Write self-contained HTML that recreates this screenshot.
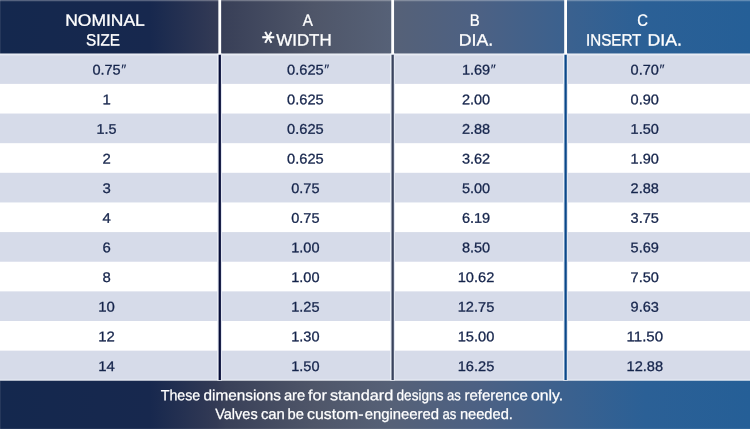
<!DOCTYPE html>
<html lang="en"><head><meta charset="utf-8"><title>Dimensions table</title>
<style>html,body{margin:0;padding:0;background:#fff}body{width:750px;height:429px;overflow:hidden}svg{display:block}text{font-family:"Liberation Sans",sans-serif}</style></head><body>
<svg width="750" height="429" viewBox="0 0 750 429">
<defs>
<linearGradient id="hg" x1="0" y1="0" x2="750" y2="0" gradientUnits="userSpaceOnUse">
<stop offset="0" stop-color="#14284e"/>
<stop offset="0.2" stop-color="#17284e"/>
<stop offset="0.288" stop-color="#333a55"/>
<stop offset="0.30" stop-color="#394058"/>
<stop offset="0.42" stop-color="#4f5669"/>
<stop offset="0.52" stop-color="#566177"/>
<stop offset="0.64" stop-color="#4c6184"/>
<stop offset="0.76" stop-color="#3a618f"/>
<stop offset="0.86" stop-color="#2b6096"/>
<stop offset="1" stop-color="#255f97"/>
</linearGradient>
</defs>
<rect x="0" y="0" width="750" height="429" fill="#ffffff"/>
<rect x="0" y="0" width="750" height="53.7" fill="url(#hg)"/>
<rect x="0" y="53.7" width="750" height="2" fill="#e8ecf4"/>
<rect x="0" y="379" width="750" height="2" fill="#eef1f7"/>
<rect x="0" y="55.30" width="750" height="28.59" fill="#d6dbe9"/>
<rect x="0" y="113.53" width="750" height="29.64" fill="#d6dbe9"/>
<rect x="0" y="172.81" width="750" height="29.64" fill="#d6dbe9"/>
<rect x="0" y="232.09" width="750" height="29.64" fill="#d6dbe9"/>
<rect x="0" y="291.37" width="750" height="29.64" fill="#d6dbe9"/>
<rect x="0" y="350.65" width="750" height="28.95" fill="#d6dbe9"/>
<rect x="0" y="380.7" width="750" height="48.3" fill="url(#hg)"/>
<rect x="217.25" y="53.7" width="2.5" height="326.8" fill="#eef2f9"/>
<rect x="219.75" y="53.7" width="2.3" height="326.8" fill="#e4e8f2"/>
<rect x="218.60" y="54.8" width="2.3" height="325.2" fill="#060d38"/>
<rect x="218.35" y="0" width="2.8" height="54" fill="#ffffff"/>
<rect x="390.15" y="53.7" width="2.5" height="326.8" fill="#eef2f9"/>
<rect x="392.65" y="53.7" width="2.3" height="326.8" fill="#e4e8f2"/>
<rect x="391.50" y="54.8" width="2.3" height="325.2" fill="#39435d"/>
<rect x="391.25" y="0" width="2.8" height="54" fill="#ffffff"/>
<rect x="563.10" y="53.7" width="2.5" height="326.8" fill="#eef2f9"/>
<rect x="565.60" y="53.7" width="2.3" height="326.8" fill="#e4e8f2"/>
<rect x="564.45" y="54.8" width="2.3" height="325.2" fill="#0a488a"/>
<rect x="564.20" y="0" width="2.8" height="54" fill="#ffffff"/>
<rect x="0" y="0" width="750" height="1" fill="#ffffff" fill-opacity="0.28"/>
<rect x="0" y="1" width="750" height="1" fill="#ffffff" fill-opacity="0.07"/>
<rect x="0" y="0" width="1" height="53.7" fill="#ffffff" fill-opacity="0.08"/>
<rect x="0" y="380.7" width="1" height="48.3" fill="#ffffff" fill-opacity="0.08"/>
<rect x="0" y="428" width="750" height="1" fill="#ffffff" fill-opacity="0.06"/>
<g fill="#ffffff" stroke="#ffffff" stroke-width="0.3" font-size="16.4">
<text x="65.2" y="25.7" textLength="79.6" lengthAdjust="spacingAndGlyphs" transform="rotate(0.05 105.0 20.7)">NOMINAL</text>
<text x="86.0" y="45.6" textLength="34.0" lengthAdjust="spacingAndGlyphs" transform="rotate(0.05 103.0 40.6)">SIZE</text>
<text x="302.7" y="25.7" textLength="10.1" lengthAdjust="spacingAndGlyphs" transform="rotate(0.05 307.8 20.7)">A</text>
<text x="276.3" y="45.6" textLength="55.3" lengthAdjust="spacingAndGlyphs" transform="rotate(0.05 304.0 40.6)">WIDTH</text>
<text x="0" y="0" font-size="25.3" stroke-width="0.5" style="font-family:'DejaVu Sans',sans-serif" text-anchor="middle" transform="translate(269.5 37.3) rotate(90) translate(0 13.5)">*</text>
<text x="469.8" y="25.7" textLength="10.0" lengthAdjust="spacingAndGlyphs" transform="rotate(0.05 474.8 20.7)">B</text>
<text x="458.8" y="45.6" textLength="34.4" lengthAdjust="spacingAndGlyphs" transform="rotate(0.05 476.0 40.6)">DIA.</text>
<text x="637.2" y="25.7" textLength="10.7" lengthAdjust="spacingAndGlyphs" transform="rotate(0.05 642.5 20.7)">C</text>
<text x="586.0" y="45.6" textLength="55.4" lengthAdjust="spacingAndGlyphs" transform="rotate(0.05 613.7 40.6)">INSERT</text>
<text x="647.6" y="45.6" textLength="34.4" lengthAdjust="spacingAndGlyphs" transform="rotate(0.05 664.8 40.6)">DIA.</text>
</g>
<g fill="#15244b" stroke="#15244b" stroke-width="0.28" font-size="14">
<text x="92.4" y="74.52" textLength="28.3" lengthAdjust="spacingAndGlyphs" transform="rotate(0.05 106.6 69.5)">0.75</text>
<text x="120.6" y="74.22" font-style="italic" stroke-width="0.1" textLength="5.1" lengthAdjust="spacingAndGlyphs" transform="rotate(0.05 123.7 69.5)">″</text>
<text x="287.1" y="74.52" textLength="36.6" lengthAdjust="spacingAndGlyphs" transform="rotate(0.05 305.4 69.5)">0.625</text>
<text x="323.6" y="74.22" font-style="italic" stroke-width="0.1" textLength="5.1" lengthAdjust="spacingAndGlyphs" transform="rotate(0.05 326.7 69.5)">″</text>
<text x="461.9" y="74.52" textLength="28.3" lengthAdjust="spacingAndGlyphs" transform="rotate(0.05 476.0 69.5)">1.69</text>
<text x="490.1" y="74.22" font-style="italic" stroke-width="0.1" textLength="5.1" lengthAdjust="spacingAndGlyphs" transform="rotate(0.05 493.2 69.5)">″</text>
<text x="630.6" y="74.52" textLength="28.3" lengthAdjust="spacingAndGlyphs" transform="rotate(0.05 644.8 69.5)">0.70</text>
<text x="658.8" y="74.22" font-style="italic" stroke-width="0.1" textLength="5.1" lengthAdjust="spacingAndGlyphs" transform="rotate(0.05 661.9 69.5)">″</text>
<text x="102.4" y="104.16" textLength="8.3" lengthAdjust="spacingAndGlyphs" transform="rotate(0.05 106.6 99.2)">1</text>
<text x="287.1" y="104.16" textLength="36.6" lengthAdjust="spacingAndGlyphs" transform="rotate(0.05 305.4 99.2)">0.625</text>
<text x="461.9" y="104.16" textLength="28.3" lengthAdjust="spacingAndGlyphs" transform="rotate(0.05 476.0 99.2)">2.00</text>
<text x="630.6" y="104.16" textLength="28.3" lengthAdjust="spacingAndGlyphs" transform="rotate(0.05 644.8 99.2)">0.90</text>
<text x="96.6" y="133.80" textLength="20.0" lengthAdjust="spacingAndGlyphs" transform="rotate(0.05 106.6 128.8)">1.5</text>
<text x="287.1" y="133.80" textLength="36.6" lengthAdjust="spacingAndGlyphs" transform="rotate(0.05 305.4 128.8)">0.625</text>
<text x="461.9" y="133.80" textLength="28.3" lengthAdjust="spacingAndGlyphs" transform="rotate(0.05 476.0 128.8)">2.88</text>
<text x="630.6" y="133.80" textLength="28.3" lengthAdjust="spacingAndGlyphs" transform="rotate(0.05 644.8 128.8)">1.50</text>
<text x="102.4" y="163.44" textLength="8.3" lengthAdjust="spacingAndGlyphs" transform="rotate(0.05 106.6 158.4)">2</text>
<text x="287.1" y="163.44" textLength="36.6" lengthAdjust="spacingAndGlyphs" transform="rotate(0.05 305.4 158.4)">0.625</text>
<text x="461.9" y="163.44" textLength="28.3" lengthAdjust="spacingAndGlyphs" transform="rotate(0.05 476.0 158.4)">3.62</text>
<text x="630.6" y="163.44" textLength="28.3" lengthAdjust="spacingAndGlyphs" transform="rotate(0.05 644.8 158.4)">1.90</text>
<text x="102.4" y="193.08" textLength="8.3" lengthAdjust="spacingAndGlyphs" transform="rotate(0.05 106.6 188.1)">3</text>
<text x="291.2" y="193.08" textLength="28.3" lengthAdjust="spacingAndGlyphs" transform="rotate(0.05 305.4 188.1)">0.75</text>
<text x="461.9" y="193.08" textLength="28.3" lengthAdjust="spacingAndGlyphs" transform="rotate(0.05 476.0 188.1)">5.00</text>
<text x="630.6" y="193.08" textLength="28.3" lengthAdjust="spacingAndGlyphs" transform="rotate(0.05 644.8 188.1)">2.88</text>
<text x="102.4" y="222.72" textLength="8.3" lengthAdjust="spacingAndGlyphs" transform="rotate(0.05 106.6 217.7)">4</text>
<text x="291.2" y="222.72" textLength="28.3" lengthAdjust="spacingAndGlyphs" transform="rotate(0.05 305.4 217.7)">0.75</text>
<text x="461.9" y="222.72" textLength="28.3" lengthAdjust="spacingAndGlyphs" transform="rotate(0.05 476.0 217.7)">6.19</text>
<text x="630.6" y="222.72" textLength="28.3" lengthAdjust="spacingAndGlyphs" transform="rotate(0.05 644.8 217.7)">3.75</text>
<text x="102.4" y="252.36" textLength="8.3" lengthAdjust="spacingAndGlyphs" transform="rotate(0.05 106.6 247.4)">6</text>
<text x="291.2" y="252.36" textLength="28.3" lengthAdjust="spacingAndGlyphs" transform="rotate(0.05 305.4 247.4)">1.00</text>
<text x="461.9" y="252.36" textLength="28.3" lengthAdjust="spacingAndGlyphs" transform="rotate(0.05 476.0 247.4)">8.50</text>
<text x="630.6" y="252.36" textLength="28.3" lengthAdjust="spacingAndGlyphs" transform="rotate(0.05 644.8 247.4)">5.69</text>
<text x="102.4" y="282.00" textLength="8.3" lengthAdjust="spacingAndGlyphs" transform="rotate(0.05 106.6 277.0)">8</text>
<text x="291.2" y="282.00" textLength="28.3" lengthAdjust="spacingAndGlyphs" transform="rotate(0.05 305.4 277.0)">1.00</text>
<text x="457.7" y="282.00" textLength="36.6" lengthAdjust="spacingAndGlyphs" transform="rotate(0.05 476.0 277.0)">10.62</text>
<text x="630.6" y="282.00" textLength="28.3" lengthAdjust="spacingAndGlyphs" transform="rotate(0.05 644.8 277.0)">7.50</text>
<text x="98.3" y="311.64" textLength="16.6" lengthAdjust="spacingAndGlyphs" transform="rotate(0.05 106.6 306.6)">10</text>
<text x="291.2" y="311.64" textLength="28.3" lengthAdjust="spacingAndGlyphs" transform="rotate(0.05 305.4 306.6)">1.25</text>
<text x="457.7" y="311.64" textLength="36.6" lengthAdjust="spacingAndGlyphs" transform="rotate(0.05 476.0 306.6)">12.75</text>
<text x="630.6" y="311.64" textLength="28.3" lengthAdjust="spacingAndGlyphs" transform="rotate(0.05 644.8 306.6)">9.63</text>
<text x="98.3" y="341.28" textLength="16.6" lengthAdjust="spacingAndGlyphs" transform="rotate(0.05 106.6 336.3)">12</text>
<text x="291.2" y="341.28" textLength="28.3" lengthAdjust="spacingAndGlyphs" transform="rotate(0.05 305.4 336.3)">1.30</text>
<text x="457.7" y="341.28" textLength="36.6" lengthAdjust="spacingAndGlyphs" transform="rotate(0.05 476.0 336.3)">15.00</text>
<text x="626.5" y="341.28" textLength="36.6" lengthAdjust="spacingAndGlyphs" transform="rotate(0.05 644.8 336.3)">11.50</text>
<text x="98.3" y="370.92" textLength="16.6" lengthAdjust="spacingAndGlyphs" transform="rotate(0.05 106.6 365.9)">14</text>
<text x="291.2" y="370.92" textLength="28.3" lengthAdjust="spacingAndGlyphs" transform="rotate(0.05 305.4 365.9)">1.50</text>
<text x="457.7" y="370.92" textLength="36.6" lengthAdjust="spacingAndGlyphs" transform="rotate(0.05 476.0 365.9)">16.25</text>
<text x="626.5" y="370.92" textLength="36.6" lengthAdjust="spacingAndGlyphs" transform="rotate(0.05 644.8 365.9)">12.88</text>
</g>
<g fill="#ffffff" stroke="#ffffff" stroke-width="0.25" font-size="14.8">
<text x="160.7" y="400.2" textLength="39.6" lengthAdjust="spacingAndGlyphs" transform="rotate(0.05 180.5 395.2)">These</text>
<text x="203.5" y="400.2" textLength="77.5" lengthAdjust="spacingAndGlyphs" transform="rotate(0.05 242.2 395.2)">dimensions</text>
<text x="283.9" y="400.2" textLength="21.4" lengthAdjust="spacingAndGlyphs" transform="rotate(0.05 294.6 395.2)">are</text>
<text x="308.0" y="400.2" textLength="18.9" lengthAdjust="spacingAndGlyphs" transform="rotate(0.05 317.4 395.2)">for</text>
<text x="329.9" y="400.2" textLength="63.4" lengthAdjust="spacingAndGlyphs" transform="rotate(0.05 361.6 395.2)">standard</text>
<text x="396.5" y="400.2" textLength="47.0" lengthAdjust="spacingAndGlyphs" transform="rotate(0.05 420.0 395.2)">designs</text>
<text x="447.1" y="400.2" textLength="13.8" lengthAdjust="spacingAndGlyphs" transform="rotate(0.05 454.0 395.2)">as</text>
<text x="464.4" y="400.2" textLength="63.4" lengthAdjust="spacingAndGlyphs" transform="rotate(0.05 496.1 395.2)">reference</text>
<text x="530.9" y="400.2" textLength="32.2" lengthAdjust="spacingAndGlyphs" transform="rotate(0.05 547.0 395.2)">only.</text>
<text x="215.2" y="419.1" textLength="42.5" lengthAdjust="spacingAndGlyphs" transform="rotate(0.05 236.4 414.1)">Valves</text>
<text x="260.9" y="419.1" textLength="24.0" lengthAdjust="spacingAndGlyphs" transform="rotate(0.05 272.9 414.1)">can</text>
<text x="287.5" y="419.1" textLength="16.4" lengthAdjust="spacingAndGlyphs" transform="rotate(0.05 295.7 414.1)">be</text>
<text x="307.1" y="419.1" textLength="56.4" lengthAdjust="spacingAndGlyphs" transform="rotate(0.05 335.3 414.1)">custom-</text>
<text x="364.7" y="419.1" textLength="74.4" lengthAdjust="spacingAndGlyphs" transform="rotate(0.05 401.9 414.1)">engineered</text>
<text x="442.5" y="419.1" textLength="13.9" lengthAdjust="spacingAndGlyphs" transform="rotate(0.05 449.4 414.1)">as</text>
<text x="459.9" y="419.1" textLength="53.0" lengthAdjust="spacingAndGlyphs" transform="rotate(0.05 486.4 414.1)">needed.</text>
</g>
</svg></body></html>
